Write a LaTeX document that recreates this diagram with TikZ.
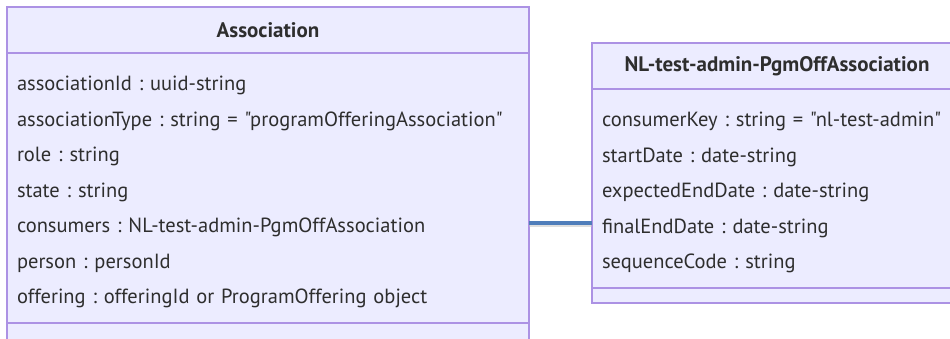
\documentclass[tikz,border=0pt]{standalone}
\usepackage{fontspec}
\setmainfont{PT Sans}[Ligatures=TeXOff]
\usetikzlibrary{positioning}
\definecolor{classfill}{HTML}{ECECFF}
\definecolor{classline}{HTML}{AC92E4}
\definecolor{classtext}{HTML}{2E2E2E}
\definecolor{linkblue}{HTML}{4F7DBA}
\frenchspacing
\tikzset{
  classhead/.style={
    draw=classline,
    fill=classfill,
    line width=1.2pt,
    rectangle,
    outer sep=0pt,
    inner sep=0pt,
    text=classtext,
    font=\bfseries\fontsize{21}{24}\selectfont
  },
  classbody/.style={
    classhead,
    inner xsep=10pt,
    align=left,
    font=\fontsize{20.5}{35.5}\selectfont
  },
  classfoot/.style={
    classhead
  },
  link/.style={
    draw=linkblue,
    line width=3.2pt
  }
}

\begin{document}
\begin{tikzpicture}[x=1pt, y=-1pt, node distance=0pt]
  \useasboundingbox (0,0) rectangle (950,338);
  \fill[white] (0,0) rectangle (950,338);

  % Association
  \node[classhead, anchor=north west, minimum width=522pt, minimum height=46pt] (assochead) at (7,7) {Association};
  \node[classbody, below=of assochead, text width=502pt, minimum height=270pt] (assocattr) {%
    \rule{0pt}{23pt}associationId : uuid-string\\
    associationType : string = "programOfferingAssociation"\\
    role : string\\
    state : string\\
    consumers : NL-test-admin-PgmOffAssociation\\
    person : personId\\
    offering : offeringId or ProgramOffering object};
  \node[classfoot, below=of assocattr, minimum width=522pt, minimum height=22pt] (assocfoot) {};

  % NL-test-admin-PgmOffAssociation
  \node[classhead, anchor=north west, minimum width=370pt, minimum height=46pt] (pgmhead) at (592,43) {NL-test-admin-PgmOffAssociation};
  \node[classbody, below=of pgmhead, text width=350pt, minimum height=199pt] (pgmattr) {%
    \rule{0pt}{23pt}consumerKey : string = "nl-test-admin"\\
    startDate : date-string\\
    expectedEndDate : date-string\\
    finalEndDate : date-string\\
    sequenceCode : string};
  \node[classfoot, below=of pgmattr, minimum width=370pt, minimum height=15pt] (pgmfoot) {};

  % Lien
  \draw[draw=black!25, line width=3pt, opacity=0.5] ([yshift=-37pt]assocattr.east) -- ([yshift=-37pt]assocattr.east -| pgmattr.west);
  \draw[link] ([yshift=-35pt]assocattr.east) -- ([yshift=-35pt]assocattr.east -| pgmattr.west);
\end{tikzpicture}
\end{document}
